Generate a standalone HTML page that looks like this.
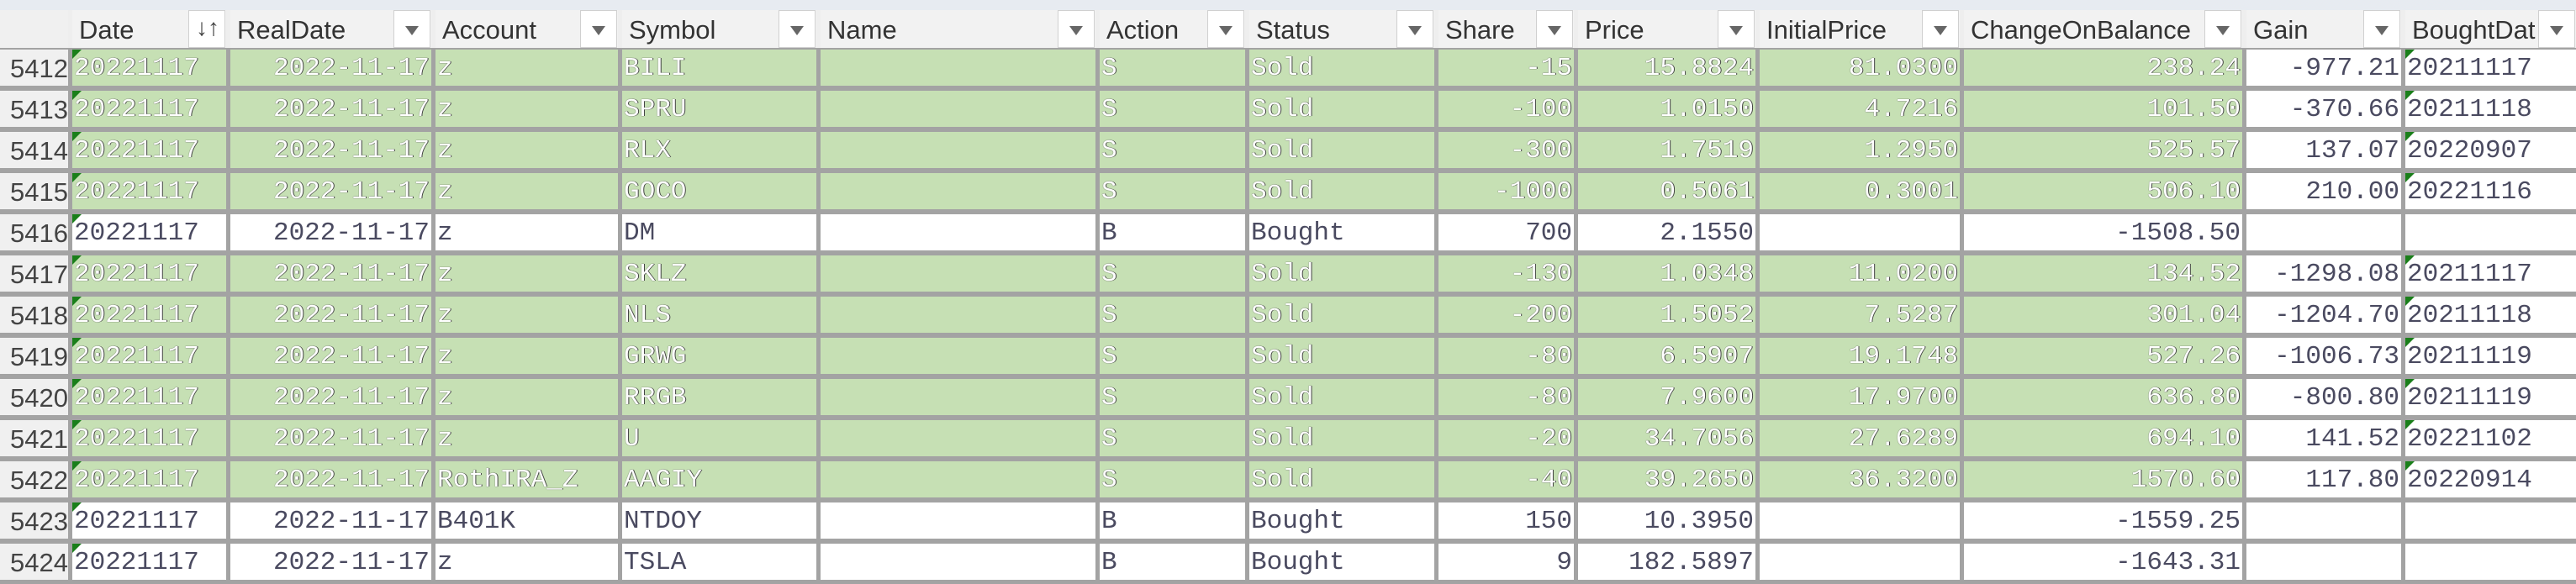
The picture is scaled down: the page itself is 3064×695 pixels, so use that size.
<!DOCTYPE html>
<html><head><meta charset="utf-8">
<style>
html,body{margin:0;padding:0;}
body{width:3064px;height:695px;position:relative;overflow:hidden;background:#a3a3a3;font-family:"Liberation Sans",sans-serif;}
#top{position:absolute;left:0;top:0;width:3064px;height:12px;background:#e7ebf1;}
#hdr{position:absolute;left:0;top:12px;width:3064px;height:45px;background:#eeeeee;}
.h{position:absolute;top:12px;height:45px;background:#f2f2f2;font-size:31px;color:#333;line-height:47px;box-sizing:border-box;padding-left:8px;overflow:hidden;white-space:nowrap;}
.fb{position:absolute;top:12px;height:45px;width:44px;background:#fff;border:1px solid #d0d0d0;box-sizing:border-box;}
.fb .tri{position:absolute;left:13px;top:18px;width:0;height:0;border-left:8px solid transparent;border-right:8px solid transparent;border-top:11px solid #666;}
.rn{position:absolute;left:0;width:81px;height:43px;background:#f0f0f0;font-size:31px;color:#444;text-align:right;line-height:45px;}
.c{position:absolute;height:43px;line-height:45px;font-family:"Liberation Mono",monospace;font-size:31px;white-space:nowrap;overflow:hidden;box-sizing:border-box;padding:0 2px;}
.g{background:#c6e0b4;color:#fff;text-shadow:0 0 1px #333,1px 0 0 #444;}
.w{background:#fff;color:#4a4a60;}
.r{text-align:right;}
.tag{position:absolute;left:0;top:0;width:0;height:0;border-top:11px solid #1a7f1a;border-right:11px solid transparent;}
</style></head><body>
<div id="top"></div>
<div id="hdr"></div>
<div class="h" style="left:0;width:81px;background:#f0f0f0"></div>
<div id="grid"></div>
<script>
const headers=["Date","RealDate","Account","Symbol","Name","Action","Status","Share","Price","InitialPrice","ChangeOnBalance","Gain","BoughtDat"];
const lines=[83,271,515,737,973,1305,1483,1708,1874,2090,2333,2669,2858,3066];
const align=["l","r","l","l","l","l","l","r","r","r","r","r","l"];
const rowNums=[5412,5413,5414,5415,5416,5417,5418,5419,5420,5421,5422,5423,5424];
const rows=[
["20221117","2022-11-17","z","BILI","","S","Sold","-15","15.8824","81.0300","238.24","-977.21","20211117"],
["20221117","2022-11-17","z","SPRU","","S","Sold","-100","1.0150","4.7216","101.50","-370.66","20211118"],
["20221117","2022-11-17","z","RLX","","S","Sold","-300","1.7519","1.2950","525.57","137.07","20220907"],
["20221117","2022-11-17","z","GOCO","","S","Sold","-1000","0.5061","0.3001","506.10","210.00","20221116"],
["20221117","2022-11-17","z","DM","","B","Bought","700","2.1550","","-1508.50","",""],
["20221117","2022-11-17","z","SKLZ","","S","Sold","-130","1.0348","11.0200","134.52","-1298.08","20211117"],
["20221117","2022-11-17","z","NLS","","S","Sold","-200","1.5052","7.5287","301.04","-1204.70","20211118"],
["20221117","2022-11-17","z","GRWG","","S","Sold","-80","6.5907","19.1748","527.26","-1006.73","20211119"],
["20221117","2022-11-17","z","RRGB","","S","Sold","-80","7.9600","17.9700","636.80","-800.80","20211119"],
["20221117","2022-11-17","z","U","","S","Sold","-20","34.7056","27.6289","694.10","141.52","20221102"],
["20221117","2022-11-17","RothIRA_Z","AAGIY","","S","Sold","-40","39.2650","36.3200","1570.60","117.80","20220914"],
["20221117","2022-11-17","B401K","NTDOY","","B","Bought","150","10.3950","","-1559.25","",""],
["20221117","2022-11-17","z","TSLA","","B","Bought","9","182.5897","","-1643.31","",""]
];
const body=document.body;
headers.forEach((t,j)=>{
  const L=lines[j]+3, R=lines[j+1]-2;
  const h=document.createElement('div');h.className='h';
  h.style.left=L+'px';h.style.width=(R-L)+'px';h.textContent=t;
  
  
  body.appendChild(h);
  const b=document.createElement('div');b.className='fb';
  b.style.left=(R-45)+'px';
  
  
  if(j===0){b.innerHTML='<span style="position:absolute;left:8px;top:4px;font-size:30px;color:#444">&#x2193;&#x2191;</span>';b.firstChild.style.fontSize='28px';}
  else b.innerHTML='<div class="tri"></div>';
  body.appendChild(b);
});
rows.forEach((r,i)=>{
  const top=59+49*i;
  const green=r[6]==='Sold';
  const n=document.createElement('div');n.className='rn';n.style.top=top+'px';n.textContent=rowNums[i];
  
  
  body.appendChild(n);
  r.forEach((v,j)=>{
    const L=lines[j]+3, R=lines[j+1]-2;
    const c=document.createElement('div');
    const isG=green && j<11;
    c.className='c '+(isG?'g':'w')+(align[j]==='r'?' r':'');
    c.style.left=L+'px';c.style.width=(R-L)+'px';c.style.top=top+'px';
    c.textContent=v;
    if((j===0||j===12)&&v){const t=document.createElement('div');t.className='tag';c.appendChild(t);}
    
    
    body.appendChild(c);
  });
});
</script>
</body></html>
